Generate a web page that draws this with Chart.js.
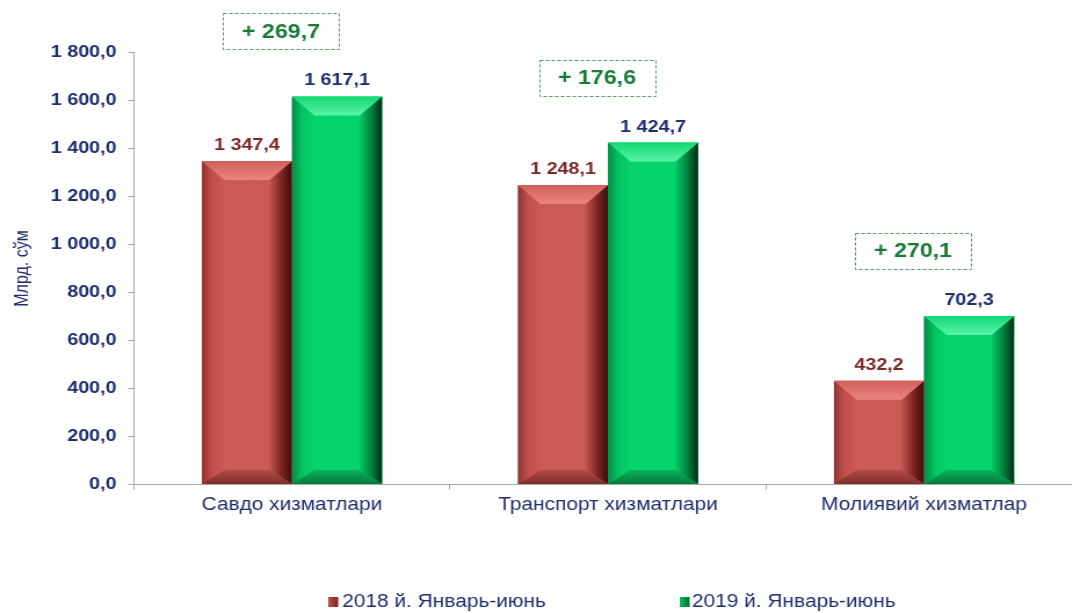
<!DOCTYPE html>
<html><head><meta charset="utf-8">
<script src="https://cdn.jsdelivr.net/npm/chart.js@4.4.0/dist/chart.umd.min.js"></script>
<style>
html,body{margin:0;padding:0;overflow:hidden;background:#fff;width:1072px;height:613px;}
#wrap{position:absolute;left:0;top:0;transform:scaleX(1.16);transform-origin:0 0;}
canvas{display:block;}
</style></head><body>
<div id="wrap"><canvas id="c" width="940" height="613"></canvas></div>
<script>
const categories = ['Савдо хизматлари', 'Транспорт хизматлари', 'Молиявий хизматлар'];
const seriesNames = ['2018 й. Январь-июнь', '2019 й. Январь-июнь'];
const values2018 = [1347.4, 1248.1, 432.2];
const values2019 = [1617.1, 1424.7, 702.3];
const growthLabels = ['+ 269,7', '+ 176,6', '+ 270,1'];
const yMin = 0, yMax = 1800, yStep = 200;
const yTitle = 'Млрд. сўм';

const FONT = '"Liberation Sans", Arial, sans-serif';
const NAVY = '#1F2D6E';

function fmt(v){
  const s = Number(v).toFixed(1);
  let [i, d] = s.split('.');
  i = i.replace(/\B(?=(\d{3})+(?!\d))/g, ' ');
  return i + ',' + d;
}

const palettes = [
  {main:'#CC5A55', top:['#D0605B','#EC8680'], left:['#8E3532','#C24F4B','#CC5A55'], right:['#C45550','#7A2522','#3A0E0D'], bottom:['#B34C48','#7C2E2B'], label:'#7A2A27', legend:['#C0504C','#6E2220']},
  {main:'#05D36B', top:['#12D873','#5CF3A9'], left:['#038C46','#04C262','#05D36B'], right:['#04C965','#037A3C','#002C15'], bottom:['#0BB25C','#067A3C'], label:NAVY, legend:['#05C060','#04672F']}
];

function poly(ctx, pts, fill){
  ctx.beginPath();
  ctx.moveTo(pts[0][0], pts[0][1]);
  for (let k = 1; k < pts.length; k++) ctx.lineTo(pts[k][0], pts[k][1]);
  ctx.closePath();
  ctx.fillStyle = fill;
  ctx.fill();
}

const bevelPlugin = {
  id: 'bevel',
  afterDatasetsDraw(chart){
    const ctx = chart.ctx;
    ctx.save();
    chart.data.datasets.forEach((ds, di) => {
      const meta = chart.getDatasetMeta(di);
      const p = palettes[di];
      meta.data.forEach(bar => {
        const {x, y, base, width} = bar.getProps(['x','y','base','width'], true);
        const x0 = x - width/2, x1 = x + width/2, yt = y, yb = base, h = yb - yt;
        const bt = Math.min(19, h/2.2), bs = Math.min(22, width/4), bb = Math.min(14, h/3);
        let g;
        // left
        g = ctx.createLinearGradient(x0, 0, x0 + bs, 0);
        g.addColorStop(0, p.left[0]); g.addColorStop(0.45, p.left[1]); g.addColorStop(1, p.left[2]);
        poly(ctx, [[x0,yt],[x0+bs,yt+bt],[x0+bs,yb-bb],[x0,yb]], g);
        // right
        g = ctx.createLinearGradient(x1 - bs, 0, x1, 0);
        g.addColorStop(0, p.right[0]); g.addColorStop(0.55, p.right[1]); g.addColorStop(1, p.right[2]);
        poly(ctx, [[x1,yt],[x1-bs,yt+bt],[x1-bs,yb-bb],[x1,yb]], g);
        // top
        g = ctx.createLinearGradient(0, yt, 0, yt + bt);
        g.addColorStop(0, p.top[0]); g.addColorStop(1, p.top[1]);
        poly(ctx, [[x0,yt],[x1,yt],[x1-bs,yt+bt],[x0+bs,yt+bt]], g);
        // bottom
        g = ctx.createLinearGradient(0, yb - bb, 0, yb);
        g.addColorStop(0, p.bottom[0]); g.addColorStop(1, p.bottom[1]);
        poly(ctx, [[x0,yb],[x0+bs,yb-bb],[x1-bs,yb-bb],[x1,yb]], g);
      });
    });
    ctx.restore();
  }
};

const labelsPlugin = {
  id: 'labelsExtra',
  afterDraw(chart){
    const ctx = chart.ctx;
    ctx.save();
    // value labels
    chart.data.datasets.forEach((ds, di) => {
      const meta = chart.getDatasetMeta(di);
      ctx.font = 'bold 17px ' + FONT;
      ctx.fillStyle = palettes[di].label;
      ctx.textAlign = 'center';
      ctx.textBaseline = 'alphabetic';
      meta.data.forEach((bar, i) => {
        ctx.fillText(fmt(ds.data[i]), bar.x, bar.y - 11);
      });
    });
    // growth boxes
    const m0 = chart.getDatasetMeta(0), m1 = chart.getDatasetMeta(1);
    growthLabels.forEach((t, i) => {
      const cx = (m0.data[i].x + m1.data[i].x)/2 - 9.5;
      const cy = m1.data[i].y - 65;
      const w = 100, h = 36;
      ctx.setLineDash([3, 2]);
      ctx.strokeStyle = '#4E9A5E';
      ctx.lineWidth = 1;
      ctx.strokeRect(Math.round(cx - w/2) + 0.5, Math.round(cy - h/2) + 0.5, w, h);
      ctx.setLineDash([]);
      ctx.font = 'bold 20px ' + FONT;
      ctx.fillStyle = '#177A36';
      ctx.textAlign = 'center';
      ctx.textBaseline = 'middle';
      ctx.fillText(t, cx, cy + 1);
    });
    // legend
    const items = [{bx:283, tx:295}, {bx:586, tx:596.5}];
    const ly = 602;
    chart.data.datasets.forEach((ds, di) => {
      const it = items[di];
      const g = ctx.createLinearGradient(it.bx, 0, it.bx + 9, 0);
      g.addColorStop(0, palettes[di].legend[0]); g.addColorStop(1, palettes[di].legend[1]);
      ctx.fillStyle = g;
      ctx.fillRect(it.bx, ly - 5, 8.5, 10);
      ctx.font = '18px ' + FONT;
      ctx.fillStyle = NAVY;
      ctx.textAlign = 'left';
      ctx.textBaseline = 'middle';
      ctx.fillText(ds.label, it.tx, ly);
    });
    ctx.restore();
  }
};

new Chart(document.getElementById('c'), {
  type: 'bar',
  data: {
    labels: categories,
    datasets: [
      {label: seriesNames[0], data: values2018, backgroundColor: palettes[0].main, categoryPercentage: 0.57, barPercentage: 1.0},
      {label: seriesNames[1], data: values2019, backgroundColor: palettes[1].main, categoryPercentage: 0.57, barPercentage: 1.0}
    ]
  },
  options: {
    responsive: false,
    animation: false,
    devicePixelRatio: 1,
    layout: {padding: {left: 0, right: 7.2, top: 52.5, bottom: 0}},
    plugins: {legend: {display: false}, tooltip: {enabled: false}},
    scales: {
      x: {
        grid: {display: true, drawOnChartArea: false, offset: true, tickLength: 5, color: '#A6A6A6'},
        border: {display: true, color: '#A6A6A6'},
        ticks: {color: NAVY, font: {size: 18, family: FONT}, padding: 5, maxRotation: 0, autoSkip: false},
        afterFit(s){ s.height = 128.5; }
      },
      y: {
        min: yMin, max: yMax,
        ticks: {stepSize: yStep, callback: v => fmt(v), color: NAVY, font: {size: 17, weight: 'bold', family: FONT}, padding: 10},
        grid: {display: true, drawOnChartArea: false, tickLength: 5, color: '#A6A6A6'},
        border: {display: true, color: '#A6A6A6'},
        title: {display: true, text: yTitle, color: NAVY, font: {size: 16, family: FONT}, padding: {top: 10, bottom: 0}},
        afterFit(s){ s.width = 115.5; }
      }
    }
  },
  plugins: [bevelPlugin, labelsPlugin]
});
</script>
</body></html>
